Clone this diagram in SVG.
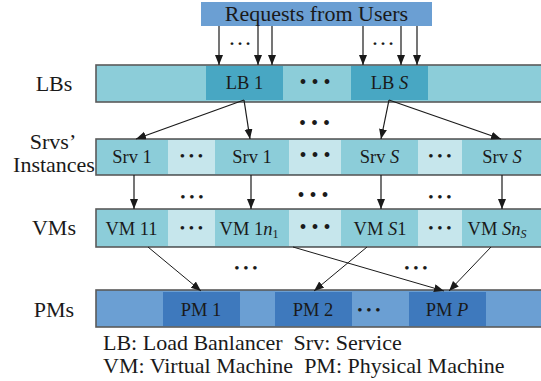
<svg xmlns="http://www.w3.org/2000/svg" width="541" height="381" viewBox="0 0 541 381">
<style>
.lbl{font-family:"Liberation Serif","Times New Roman",serif;font-size:22px;fill:#1a1a1a;text-anchor:middle}
.bt{font-family:"Liberation Serif","Times New Roman",serif;font-size:18.5px;fill:#1a1a1a;text-anchor:middle}
.dl{font-family:"Liberation Serif",serif;font-size:20px;fill:#1a1a1a;text-anchor:middle}
.ds{font-family:"Liberation Serif",serif;font-size:15px;fill:#1a1a1a;text-anchor:middle}
.de{font-family:"Liberation Serif",serif;font-size:24px;fill:#1a1a1a;text-anchor:middle}
.leg{font-family:"Liberation Serif","Times New Roman",serif;font-size:22px;fill:#1a1a1a;white-space:pre}
.bar{stroke:#5a5a5a;stroke-width:1.6}
.cyan{fill:#8ccdd9}
.light{fill:#c6e6ec}
.lb{fill:#48a7c3}
.blue{fill:#6b9fd3}
.pm{fill:#3e79bd}
.c{stroke:#1a1a1a;stroke-width:1.2;fill:none;marker-end:url(#ah)}
.ct{stroke:#1a1a1a;stroke-width:1;fill:none;marker-end:url(#ah)}
</style>
<defs>
<marker id="ah" markerUnits="userSpaceOnUse" markerWidth="11" markerHeight="9" refX="10" refY="4" orient="auto">
<path d="M0,0 L10,4 L0,8 z" fill="#1a1a1a"/>
</marker>
</defs>
<rect width="541" height="381" fill="#ffffff"/>

<!-- left labels -->
<text class="lbl" x="54" y="91">LBs</text>
<text class="lbl" x="53" y="149">Srvs’</text>
<text class="lbl" x="54" y="172">Instances</text>
<text class="lbl" x="54" y="235">VMs</text>
<text class="lbl" x="54" y="317">PMs</text>

<!-- requests -->
<g id="requests">
<rect class="blue" x="201" y="2" width="231" height="24"/>
<text class="lbl" x="316.5" y="21">Requests from Users</text>
</g>

<!-- LB row -->
<g id="lbs">
<rect class="bar cyan" x="96" y="65" width="460" height="37"/>
<g id="lb1"><rect class="lb" x="206" y="66" width="77" height="34"/><text class="bt" x="244.5" y="89">LB 1</text></g>
<g id="lbS"><rect class="lb" x="351" y="66" width="77" height="34"/><text class="bt" x="389.5" y="89">LB <tspan font-style="italic">S</tspan></text></g>
<text class="dl" x="315" y="89">• • •</text>
</g>

<!-- Srv row -->
<g id="srvs">
<rect class="bar cyan" x="96" y="139" width="460" height="36"/>
<rect class="light" x="168" y="140" width="47" height="34"/>
<rect class="light" x="289" y="140" width="52" height="34"/>
<rect class="light" x="418" y="140" width="44" height="34"/>
<g id="srv1a"><text class="bt" x="132" y="163">Srv 1</text></g>
<g id="srv1b"><text class="bt" x="252" y="163">Srv 1</text></g>
<g id="srvSa"><text class="bt" x="379.5" y="163">Srv <tspan font-style="italic">S</tspan></text></g>
<g id="srvSb"><text class="bt" x="502" y="163">Srv <tspan font-style="italic">S</tspan></text></g>
<text class="ds" x="191.5" y="161">• • •</text>
<text class="dl" x="315" y="162">• • •</text>
<text class="ds" x="440" y="161">• • •</text>
</g>

<!-- VM row -->
<g id="vms">
<rect class="bar cyan" x="96" y="209" width="460" height="38"/>
<rect class="light" x="168" y="210" width="47" height="36"/>
<rect class="light" x="289" y="210" width="52" height="36"/>
<rect class="light" x="418" y="210" width="44" height="36"/>
<g id="vm11"><text class="bt" x="131.5" y="235">VM 11</text></g>
<g id="vm1n"><text class="bt" x="249" y="235">VM 1<tspan font-style="italic">n</tspan><tspan font-size="12" dy="3">1</tspan></text></g>
<g id="vmS1"><text class="bt" x="380" y="235">VM <tspan font-style="italic">S</tspan>1</text></g>
<g id="vmSn"><text class="bt" x="497" y="235">VM <tspan font-style="italic">Sn</tspan><tspan font-size="12" font-style="italic" dy="3">S</tspan></text></g>
<text class="ds" x="191.5" y="233">• • •</text>
<text class="dl" x="315" y="234">• • •</text>
<text class="ds" x="440" y="233">• • •</text>
</g>

<!-- PM row -->
<g id="pms">
<rect class="bar blue" x="96" y="290" width="460" height="37"/>
<g id="pm1"><rect class="pm" x="163" y="292" width="77" height="34"/><text class="bt" x="201" y="316">PM 1</text></g>
<g id="pm2"><rect class="pm" x="275" y="292" width="77" height="34"/><text class="bt" x="313" y="316">PM 2</text></g>
<g id="pmP"><rect class="pm" x="409" y="292" width="77" height="34"/><text class="bt" x="447" y="316">PM <tspan font-style="italic">P</tspan></text></g>
<text class="ds" x="369" y="315">• • •</text>
</g>

<!-- between-row dots -->
<text class="de" x="240" y="45">…</text>
<text class="de" x="383" y="45">…</text>
<text class="dl" x="314.5" y="130">• • •</text>
<text class="ds" x="192" y="202">• • •</text>
<text class="dl" x="313" y="202">• • •</text>
<text class="ds" x="440" y="202">• • •</text>
<text class="ds" x="246" y="273">• • •</text>
<text class="ds" x="416" y="273">• • •</text>

<!-- connectors -->
<g id="connectors">
<line class="c" x1="219" y1="26" x2="219" y2="65"/>
<line class="c" x1="258" y1="26" x2="258" y2="65"/>
<line class="c" x1="272" y1="26" x2="272" y2="65"/>
<line class="c" x1="363" y1="26" x2="363" y2="65"/>
<line class="c" x1="401" y1="26" x2="401" y2="65"/>
<line class="c" x1="417" y1="26" x2="417" y2="65"/>
<line class="c" x1="244" y1="100" x2="136" y2="139"/>
<line class="c" x1="244" y1="100" x2="250" y2="139"/>
<line class="c" x1="389" y1="100" x2="381" y2="139"/>
<line class="c" x1="389" y1="100" x2="501" y2="139"/>
<line class="c" x1="134" y1="175" x2="134" y2="209"/>
<line class="c" x1="251" y1="175" x2="251" y2="209"/>
<line class="c" x1="381" y1="175" x2="381" y2="209"/>
<line class="c" x1="502" y1="175" x2="502" y2="209"/>
<line class="ct" x1="148" y1="247" x2="201" y2="291"/>
<line class="ct" x1="293" y1="247" x2="444" y2="291"/>
<line class="ct" x1="367" y1="247" x2="314" y2="291"/>
<line class="ct" x1="491" y1="247" x2="449" y2="291"/>
</g>

<!-- legend -->
<text class="leg" x="103" y="350" xml:space="preserve">LB: Load Banlancer  Srv: Service</text>
<text class="leg" x="103" y="373" xml:space="preserve">VM: Virtual Machine  PM: Physical Machine</text>
</svg>
